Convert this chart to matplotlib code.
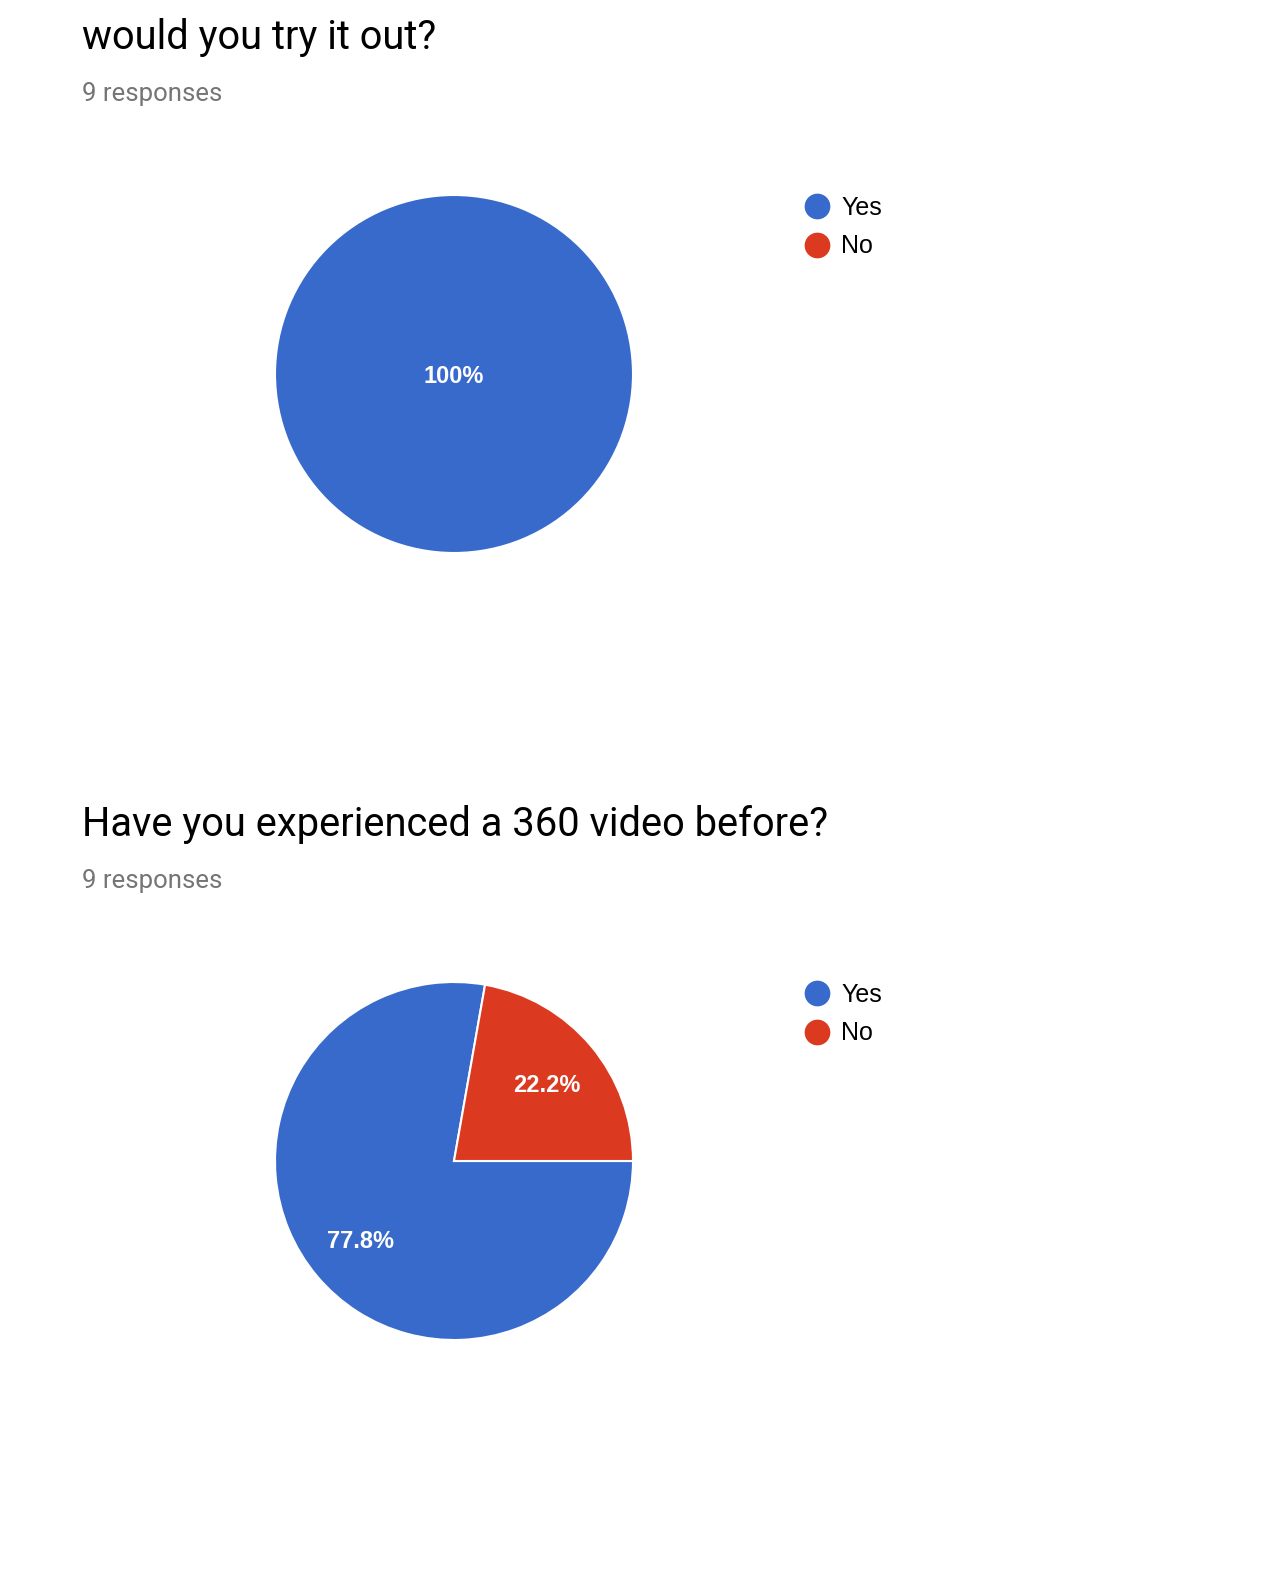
import matplotlib
matplotlib.use("Agg")
import matplotlib.pyplot as plt
from matplotlib.lines import Line2D

W, H = 1276, 1576

# ---- data ----
questions = ["would you try it out?", "Have you experienced a 360 video before?"]
responses = [9, 9]
categories = ["Yes", "No"]
yes_counts = [9, 7]
no_counts = [0, 2]
colors = ["#386acc", "#db3a20"]
start_angles = [90, 80]

fig = plt.figure(figsize=(W / 100, H / 100), dpi=100)
fig.patch.set_facecolor("white")


def fx(px):
    return px / W


def fy(py):
    return 1 - py / H


def pct_label(p):
    s = f"{p:.1f}"
    if s.endswith(".0"):
        s = s[:-2]
    return s + "%"


R = 179          # pie radius in px
panel_dy = 787   # vertical offset between the two panels

for i, q in enumerate(questions):
    oy = i * panel_dy
    fig.text(fx(82), fy(49 + oy), q, fontsize=28.7, family="Roboto",
             color="#000000", va="baseline", ha="left")
    fig.text(fx(82), fy(101 + oy), f"{responses[i]} responses", fontsize=18.5,
             family="Roboto", color="#757575", va="baseline", ha="left")

    cx, cy = 454, 374 + oy
    half = 1.2 * R
    ax = fig.add_axes([fx(cx - half), fy(cy + half), 2 * half / W, 2 * half / H])
    vals = [yes_counts[i], no_counts[i]]
    keep = [k for k, v in enumerate(vals) if v > 0]
    wedges, texts, autotexts = ax.pie(
        [vals[k] for k in keep],
        colors=[colors[k] for k in keep],
        startangle=start_angles[i],
        counterclock=True,
        autopct=pct_label,
        pctdistance=0 if len(keep) == 1 else 0.68,
        wedgeprops=dict(edgecolor="white", linewidth=1.5),
        textprops=dict(color="white", fontsize=17, family="Liberation Sans",
                       fontweight="bold"),
    )
    for t in autotexts:
        t.set_ha("center")
        t.set_va("center_baseline")
    ax.set_xlim(-1.2, 1.2)
    ax.set_ylim(-1.2, 1.2)
    ax.set_aspect("equal")
    ax.axis("off")

    handles = [Line2D([], [], marker="o", ls="", markersize=17.5,
                      markerfacecolor=c, markeredgecolor=c) for c in colors]
    fig.legend(handles, categories, loc="center left",
               bbox_to_anchor=(fx(805), fy(227 + oy)),
               frameon=False, borderpad=0, borderaxespad=0,
               handlelength=0.95, handletextpad=0.5, labelspacing=0.58,
               prop=dict(family="Liberation Sans", size=18))

fig.savefig("out.png", dpi=100, facecolor="white")
